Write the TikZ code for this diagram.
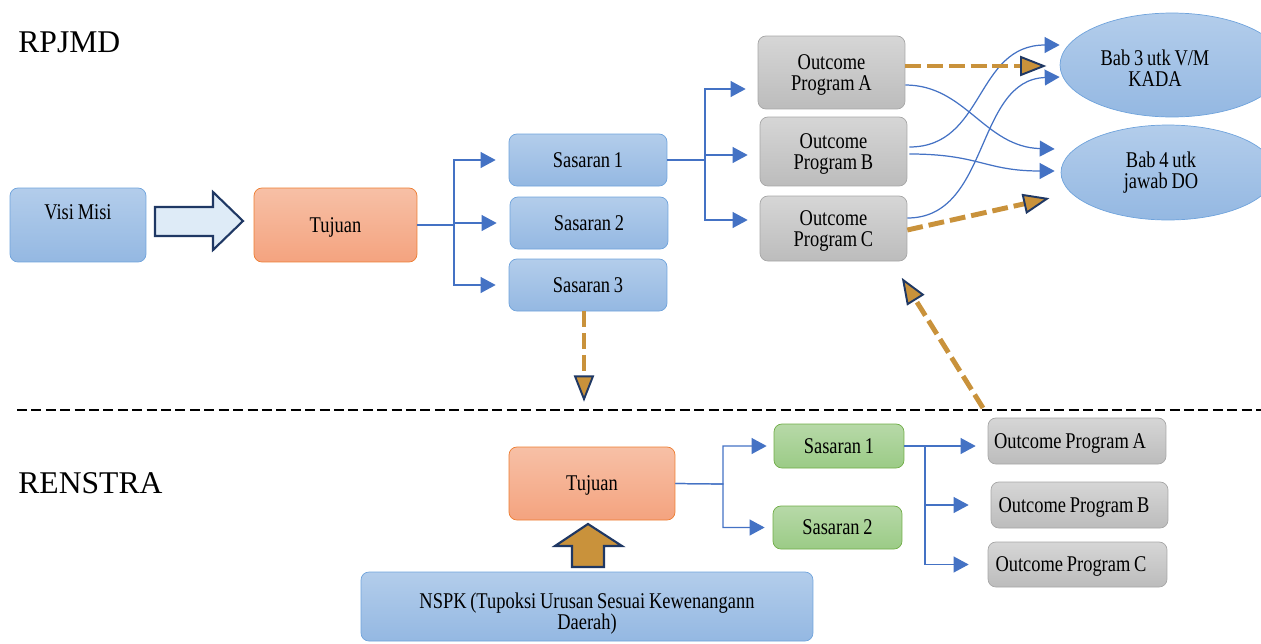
\documentclass[tikz,border=0pt]{standalone}
\usepackage{fontspec}
\setmainfont{Liberation Serif}
\newfontfamily\boxfont[FakeStretch=0.82,WordSpace=0.82]{Liberation Serif}
\usetikzlibrary{arrows.meta,calc,shapes.geometric}

\definecolor{blueT}{HTML}{B3CDEB}
\definecolor{blueB}{HTML}{94B8E2}
\definecolor{blueD}{HTML}{6FA3DC}
\definecolor{orangeT}{HTML}{F7C0A6}
\definecolor{orangeB}{HTML}{F4A37F}
\definecolor{orangeD}{HTML}{ED7D31}
\definecolor{grayT}{HTML}{D6D6D6}
\definecolor{grayB}{HTML}{BCBCBC}
\definecolor{grayD}{HTML}{A6A6A6}
\definecolor{greenT}{HTML}{B7D9A8}
\definecolor{greenB}{HTML}{9BCB86}
\definecolor{greenD}{HTML}{70AD47}
\definecolor{arrblue}{HTML}{4472C4}
\definecolor{gold}{HTML}{C9923B}
\definecolor{navy}{HTML}{1F3864}
\definecolor{pale}{HTML}{DEEBF7}

\begin{document}
\begin{tikzpicture}[x=0.02cm,y=-0.02cm,font=\boxfont\fontsize{12.8}{12}\selectfont,
                blue box/.style={rectangle,rounded corners=4.5pt,draw=blueD,top color=blueT,bottom color=blueB,inner sep=2pt},
                orange box/.style={rectangle,rounded corners=4.5pt,draw=orangeD,top color=orangeT,bottom color=orangeB,inner sep=2pt,text depth=0pt},
                gray box/.style={rectangle,rounded corners=4.5pt,draw=grayD,top color=grayT,bottom color=grayB,inner sep=2pt,align=center,text depth=0pt},
                wide gray/.style={rectangle,rounded corners=4.5pt,draw=grayD,top color=grayT,bottom color=grayB,inner sep=2pt,text depth=0pt},
                green box/.style={rectangle,rounded corners=4.5pt,draw=greenD,top color=greenT,bottom color=greenB,inner sep=2pt},
                oval/.style={ellipse,draw=blueD,top color=blueT,bottom color=blueB,inner sep=0pt},
                title/.style={font=\rmfamily\fontsize{18}{21.6}\selectfont,anchor=base west,inner sep=0pt},
                link/.style={draw=arrblue,line width=0.7pt,-{Triangle[length=8.5pt,width=9pt]}},
                gold link/.style={draw=gold,line width=2.8pt,dash pattern=on 9pt off 3.4pt,
                    -{Triangle[length=15pt,width=11.5pt,fill=gold,color=navy,line width=1.1pt,sep=3pt]}},
                block/.style={draw=navy,line width=1.2pt},
                divider/.style={draw=black,line width=1.1pt,dash pattern=on 5.7pt off 2.5pt}]

            \useasboundingbox (0,0) rectangle (1261,643);

            % RPJMD
            \node[title] (rp) at (18,52) {RPJMD};
            \node[blue box, minimum width=2.72cm, minimum height=1.48cm, text depth=15pt] (visi) at (78,225) {Visi Misi};
            \node[orange box, minimum width=3.26cm, minimum height=1.48cm] (tj) at (335.5,225) {Tujuan};
            \node[blue box, minimum width=3.16cm, minimum height=1.04cm] (s1) at (588,160) {Sasaran 1};
            \node[blue box, minimum width=3.16cm, minimum height=1.04cm] (s2) at (589,223) {Sasaran 2};
            \node[blue box, minimum width=3.16cm, minimum height=1.04cm] (s3) at (588,285) {Sasaran 3};
            \node[gray box, minimum width=2.94cm, minimum height=1.46cm] (oa) at (831.5,72.5) {Outcome\\Program A};
            \node[gray box, minimum width=2.94cm, minimum height=1.38cm] (ob) at (833.5,151.5) {Outcome\\Program B};
            \node[gray box, minimum width=2.94cm, minimum height=1.30cm] (oc) at (833.5,228.5) {Outcome\\Program C};
            \node[oval, minimum width=4.48cm, minimum height=2.08cm,
                  label={[align=center,xshift=-0.34cm,yshift=-0.06cm]center:Bab 3 utk V/M\\KADA}] (bab3) at (1172,65) {};
            \node[oval, minimum width=4.28cm, minimum height=1.90cm,
                  label={[align=center,xshift=-0.14cm]center:Bab 4 utk\\jawab DO}] (bab4) at (1168,172.5) {};

            \draw[block, fill=pale] (155,207) -- (213,207) -- (213,192) -- (243,221) -- (213,250) -- (213,236) -- (155,236) -- cycle;

            \coordinate (j1) at (454,225);
            \draw[link, shorten >=0.26cm] (tj.east) -- (j1) |- (s1.west);
            \draw[link, shorten >=0.26cm] (tj.east) -- (j1) |- (s2.west);
            \draw[link, shorten >=0.26cm] (tj.east) -- (j1) |- (s3.west);

            \coordinate (j2) at (705,160);
            \draw[link, shorten >=0.24cm] (s1.east) -- (j2) |- ($(oa.west)+(0,16.5)$);
            \draw[link, shorten >=0.24cm] (s1.east) -- (j2) |- ($(ob.west)+(0,3.5)$);
            \draw[link, shorten >=0.24cm] (s1.east) -- (j2) |- ($(oc.west)+(0,-8.5)$);

            \draw[link] ($(oa.east)+(0,12.5)$) .. controls +(60,0) and +(-70,-2) .. ($(bab4.west)+(-6,-23.5)$);
            \draw[link] ($(ob.east)+(2,-4.5)$) .. controls +(76,0) and +(-85,0) .. ($(bab3.west)+(0,-20)$);
            \draw[link] ($(ob.east)+(2,2.5)$) .. controls +(70,0) and +(-70,0) .. ($(bab4.west)+(-6,-1.5)$);
            \draw[link] ($(oc.east)+(0,-10.5)$) .. controls +(83,0) and +(-85,3) .. ($(bab3.west)+(0,12)$);

            \draw[gold link] ($(oa.east)+(0,-6.5)$) -- ($(bab3.west)+(-8,1)$);
            \draw[gold link] ($(oc.east)+(0,1.5)$) -- ($(bab4.west)+(-6,24.5)$);

            % garis batas
            \coordinate (lineL) at (17,410);
            \coordinate (lineR) at (1261,410);
            \draw[divider] (lineL) -- (lineR);

            \coordinate (s3d) at ($(s3.south)+(-4,0)$);
            \draw[gold link, shorten >=0.06cm] (s3d) -- (s3d |- lineL);
            \coordinate (d0) at (983,408);
            \draw[gold link] (d0) -- ($(oc.south)+(65.5,12)$);

            % RENSTRA
            \node[title] (rs) at (18,493) {RENSTRA};
            \node[orange box, minimum width=3.32cm, minimum height=1.46cm] (tj2) at (592,483.5) {Tujuan};
            \node[green box, minimum width=2.60cm, minimum height=0.88cm] (g1) at (839,446) {Sasaran 1};
            \node[green box, minimum width=2.58cm, minimum height=0.86cm] (g2) at (837.5,527.5) {Sasaran 2};
            \node[wide gray, minimum width=3.56cm, minimum height=0.92cm] (pa) at (1077,441) {Outcome Program A\hspace*{0.28cm}};
            \node[wide gray, minimum width=3.54cm, minimum height=0.92cm] (pb) at (1079.5,505) {Outcome Program B\hspace*{0.22cm}};
            \node[wide gray, minimum width=3.58cm, minimum height=0.90cm] (pc) at (1077.5,564.5) {Outcome Program C\hspace*{0.26cm}};
            \node[blue box, minimum width=9.04cm, minimum height=1.38cm, align=center, text depth=0pt] (nspk) at (587,606.5)
                {\rule{0pt}{14.7pt}NSPK (Tupoksi Urusan Sesuai Kewenangann\\Daerah)};

            \draw[block, fill=gold] (572,567) -- (604,567) -- (604,546) -- (622,546) -- (588,524) -- (555,546) -- (572,546) -- cycle;

            \coordinate (j3) at (723,484);
            \draw[link, shorten >=0.14cm] (tj2.east) -- (j3) |- (g1.west);
            \draw[link, shorten >=0.16cm] (tj2.east) -- (j3) |- (g2.west);

            \coordinate (j4) at (925,446);
            \draw[link, shorten >=0.24cm] (g1.east) -- (g1.east -| pa.west);
            \draw[link, shorten >=0.44cm] (g1.east) -- (j4) |- (pb.west);
            \draw[link, shorten >=0.38cm] (g1.east) -- (j4) |- (pc.west);

        \end{tikzpicture}
\end{document}
